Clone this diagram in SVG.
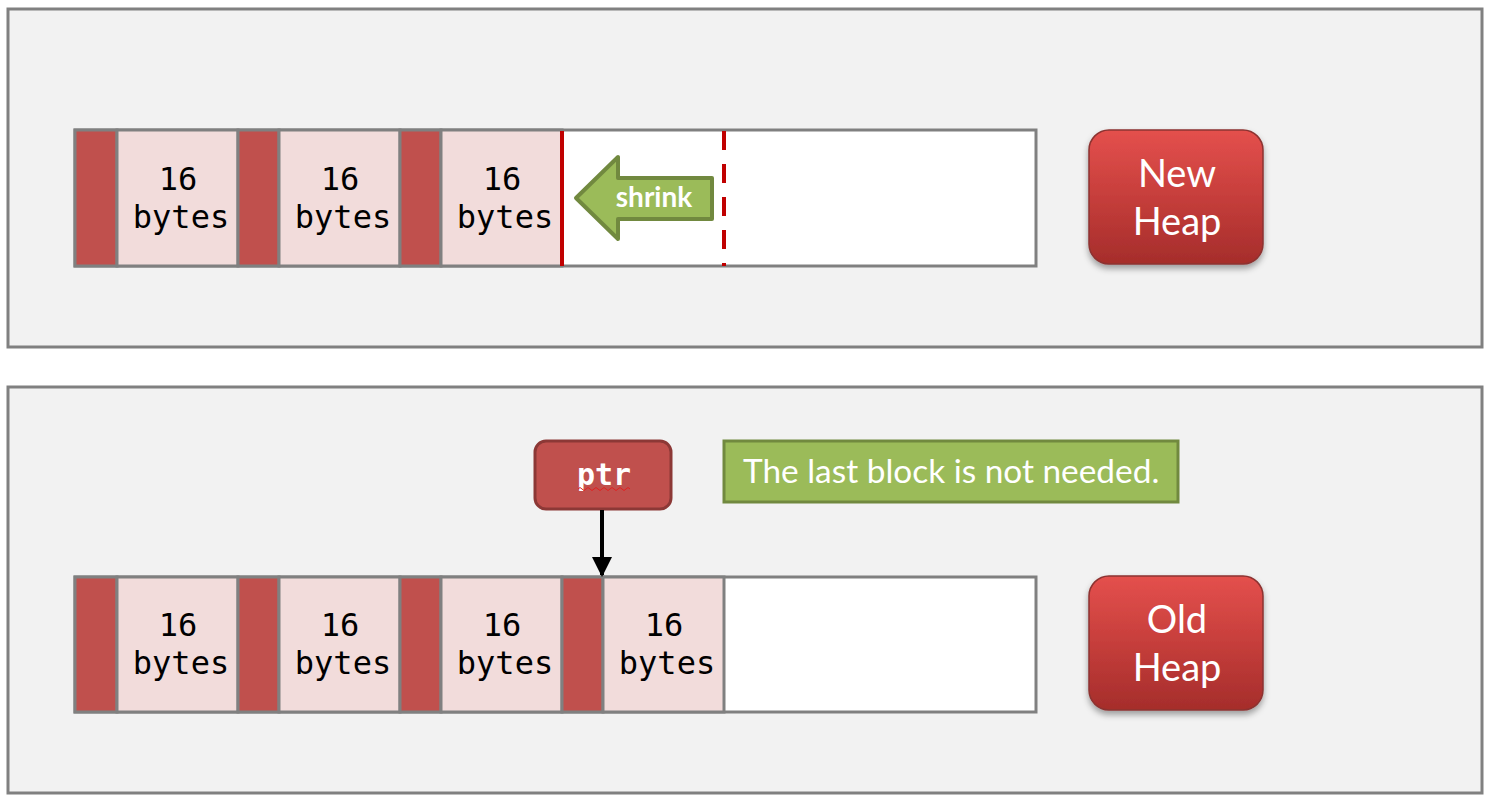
<svg xmlns="http://www.w3.org/2000/svg" width="1490" height="802" viewBox="0 0 1490 802">
<defs>
<linearGradient id="btn" x1="0" y1="0" x2="0" y2="1">
<stop offset="0" stop-color="#e4504d"/>
<stop offset="0.5" stop-color="#c63e3b"/>
<stop offset="1" stop-color="#a52d2b"/>
</linearGradient>
<filter id="sh" x="-20%" y="-20%" width="140%" height="150%">
<feDropShadow dx="0" dy="4" stdDeviation="3" flood-color="#000" flood-opacity="0.35"/>
</filter>
<marker id="ah" viewBox="0 0 10 10" refX="9" refY="5" markerWidth="5" markerHeight="5.5" orient="auto" markerUnits="strokeWidth">
<path d="M0,0 L10,5 L0,10 z" fill="#000"/>
</marker>
</defs>
<style>
.panel{fill:#f2f2f2;stroke:#808080;stroke-width:3}
.hdr{fill:#c0504d;stroke:#808080;stroke-width:3}
.cell{fill:#f2dcdb;stroke:#808080;stroke-width:3}
.bar{fill:#fff;stroke:#808080;stroke-width:3}
.mono{font-family:"DejaVu Sans Mono","Liberation Mono",monospace;font-size:32px;fill:#000;text-anchor:middle}
.btn{fill:url(#btn);stroke:#8c3330;stroke-width:1.5;filter:url(#sh)}
.btxt{font-family:Lato,"Open Sans",sans-serif;font-size:38px;fill:#fff;text-anchor:middle}
.grn{fill:#9bbb59;stroke:#71893f;stroke-width:3}
</style>
<g id="panel-new">
<rect class="panel" x="8" y="9" width="1474" height="338"/>
</g>
<g id="panel-old">
<rect class="panel" x="8" y="387" width="1474" height="406"/>
</g>
<g id="new-heap-bar">
<rect class="bar" x="75" y="130" width="961" height="136"/>
<rect class="hdr" x="75" y="130" width="42" height="136"/>
<rect class="cell" x="117" y="130" width="121" height="136"/>
<rect class="hdr" x="238" y="130" width="41" height="136"/>
<rect class="cell" x="279" y="130" width="121" height="136"/>
<rect class="hdr" x="400" y="130" width="41" height="136"/>
<rect class="cell" x="441" y="130" width="121" height="136"/>
<text class="mono" x="178" y="190">16</text><text class="mono" x="181" y="228">bytes</text>
<text class="mono" x="340" y="190">16</text><text class="mono" x="343" y="228">bytes</text>
<text class="mono" x="502" y="190">16</text><text class="mono" x="505" y="228">bytes</text>
<line x1="562" y1="131" x2="562" y2="266" stroke="#c00000" stroke-width="4"/>
<line x1="724" y1="131" x2="724" y2="266" stroke="#c00000" stroke-width="4" stroke-dasharray="19,14"/>
</g>
<g id="shrink-arrow">
<path d="M576,198 L618,157 L618,178 L712,178 L712,219 L618,219 L618,239 Z" fill="#9bbb59" stroke="#71893f" stroke-width="4" stroke-linejoin="round"/>
<text x="654" y="207" font-family="Lato,'Open Sans',sans-serif" font-weight="bold" font-size="28" fill="#fff" text-anchor="middle">shrink</text>
</g>
<g id="new-heap-label">
<rect class="btn" x="1089" y="130" width="174" height="134" rx="20"/>
<text class="btxt" x="1177" y="187">New</text>
<text class="btxt" x="1177" y="235">Heap</text>
</g>
<g id="old-heap-bar">
<rect class="bar" x="75" y="577" width="961" height="135"/>
<rect class="hdr" x="75" y="577" width="42" height="135"/>
<rect class="cell" x="117" y="577" width="121" height="135"/>
<rect class="hdr" x="238" y="577" width="41" height="135"/>
<rect class="cell" x="279" y="577" width="121" height="135"/>
<rect class="hdr" x="400" y="577" width="41" height="135"/>
<rect class="cell" x="441" y="577" width="121" height="135"/>
<rect class="hdr" x="562" y="577" width="41" height="135"/>
<rect class="cell" x="603" y="577" width="121" height="135"/>
<text class="mono" x="178" y="636">16</text><text class="mono" x="181" y="674">bytes</text>
<text class="mono" x="340" y="636">16</text><text class="mono" x="343" y="674">bytes</text>
<text class="mono" x="502" y="636">16</text><text class="mono" x="505" y="674">bytes</text>
<text class="mono" x="664" y="636">16</text><text class="mono" x="667" y="674">bytes</text>
</g>
<g id="ptr">
<rect x="535" y="441" width="136" height="68" rx="11" fill="#c0504d" stroke="#8c3836" stroke-width="3"/>
<text x="604" y="485" font-family="'DejaVu Sans Mono','Liberation Mono',monospace" font-weight="bold" font-size="30" fill="#fff" text-anchor="middle">ptr</text>
<path d="M578,489 q2,-3 4,0 t4,0 t4,0 t4,0 t4,0 t4,0 t4,0 t4,0 t4,0 t4,0 t4,0 t4,0 t4,0" fill="none" stroke="#e02020" stroke-width="1"/>
</g>
<g id="note">
<rect class="grn" x="724" y="441" width="454" height="61"/>
<text x="743" y="483" font-family="Lato,'Open Sans',sans-serif" font-size="33.4" fill="#fff">The last block is not needed.</text>
</g>
<g id="old-heap-label">
<rect class="btn" x="1089" y="576" width="174" height="134" rx="20"/>
<text class="btxt" x="1177" y="633">Old</text>
<text class="btxt" x="1177" y="681">Heap</text>
</g>
<g id="connectors">
<line x1="602" y1="510" x2="602" y2="575" stroke="#000" stroke-width="4" marker-end="url(#ah)"/>
</g>
</svg>
